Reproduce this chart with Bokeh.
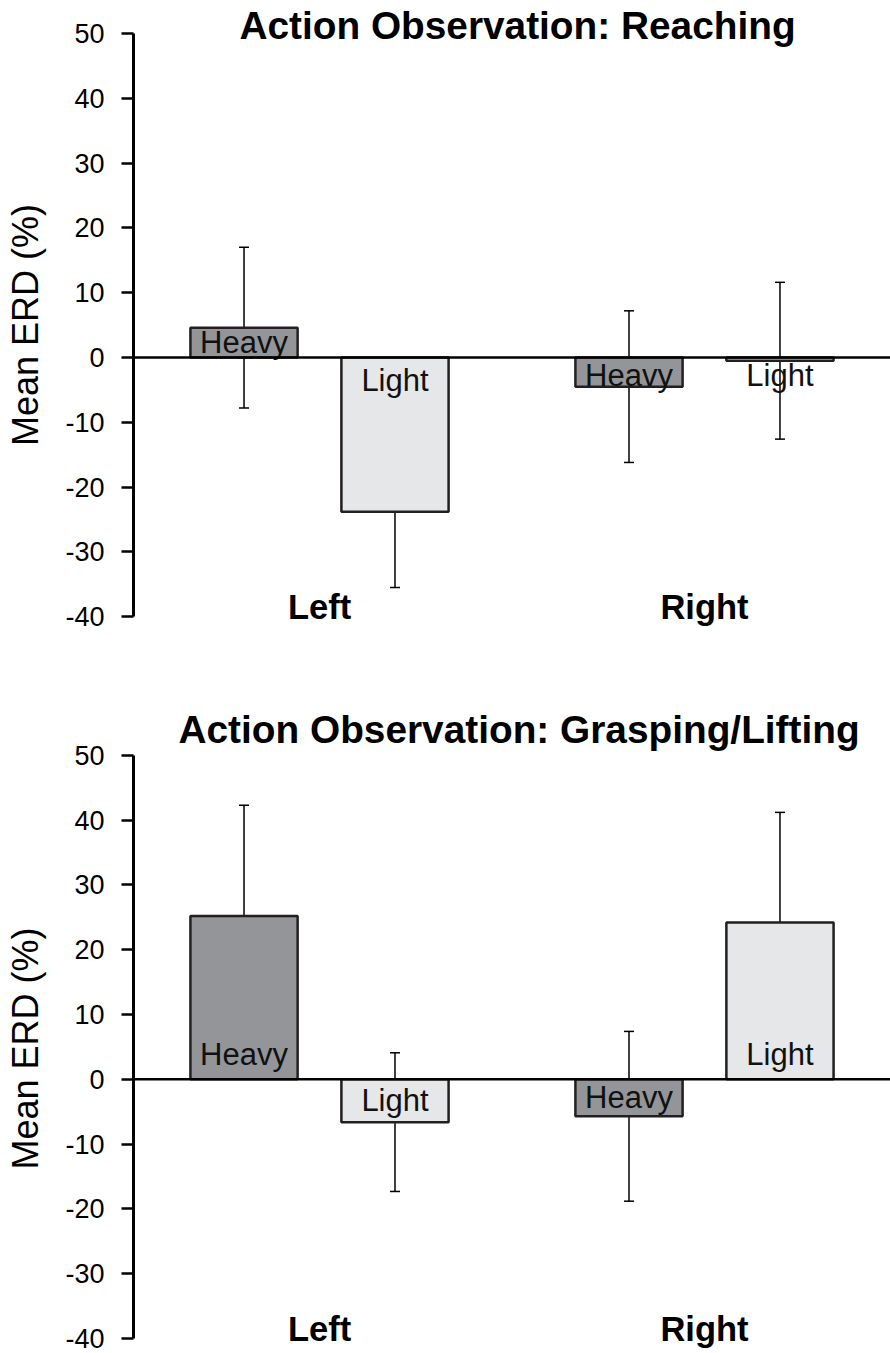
from bokeh.plotting import figure
from bokeh.models import (FactorRange, Range1d, Span, Whisker, TeeHead,
                          ColumnDataSource, Label, FixedTicker, PrintfTickFormatter)
from bokeh.layouts import column
from bokeh.embed import file_html
from bokeh.resources import INLINE
from bokeh.core.properties import value

# ---- data ----
sides = ["Left", "Right"]
weights = ["Heavy", "Light"]
reach_mean = [4.6, -23.8, -4.5, -0.5]
reach_err = [12.4, 11.7, 11.7, 12.1]
grasp_mean = [25.2, -6.6, -5.7, 24.2]
grasp_err = [17.1, 10.7, 13.1, 17.0]
y_ticks = [-40, -30, -20, -10, 0, 10, 20, 30, 40, 50]
titles = ["Action Observation: Reaching", "Action Observation: Grasping/Lifting"]
y_label = "Mean ERD (%)"

FONT = "Liberation Sans"
fills = {"Heavy": "#939598", "Light": "#e6e7e8"}
factors = [(s, w) for s in sides for w in weights]
PX_PER_UNIT = 6.48


def label_pos(v):
    if v >= 0:
        return min(max(v / 2, 2.3), 3.9)
    return -min(max(-v / 2, 2.8), 3.5)


def make_panel(title, means, errs, y_end, frame_h, top_border, title_in_frame):
    y_start = y_end - frame_h / PX_PER_UNIT
    src = ColumnDataSource(dict(
        x=factors,
        top=means,
        upper=[m + e for m, e in zip(means, errs)],
        lower=[m - e for m, e in zip(means, errs)],
        fill=[fills[w] for _, w in factors],
        label=[w for _, w in factors],
        ly=[label_pos(m) for m in means],
    ))
    p = figure(
        x_range=FactorRange(*factors, group_padding=0.55, range_padding=0.102,
                            range_padding_units="percent"),
        y_range=Range1d(y_start, y_end),
        frame_width=757, frame_height=frame_h,
        x_axis_location=None, toolbar_location=None, output_backend="svg",
        min_border=0, min_border_left=133, min_border_top=top_border,
        min_border_right=0, min_border_bottom=0,
        outline_line_color=None,
        title=None if title_in_frame else title,
    )
    p.xgrid.visible = False
    p.ygrid.visible = False

    p.vbar(x="x", top="top", bottom=0, width=0.71, source=src,
           fill_color="fill", line_color="#231f20", line_width=2.5)
    p.text(x="x", y="ly", text="label", source=src,
           text_align="center", text_baseline="middle",
           text_font=value(FONT), text_font_size="31px", text_color="#111111")
    p.text(x=sides, y=[y_ticks[0]] * len(sides), text=sides,
           text_align="center", text_baseline="middle", y_offset=-10,
           text_font=value(FONT), text_font_size="34.5px",
           text_font_style="bold", text_color="black")

    p.add_layout(Span(location=0, dimension="width", line_color="black", line_width=2.5))
    p.add_layout(Whisker(base="x", upper="upper", lower="lower", source=src,
                         line_color="black", line_width=1.5,
                         upper_head=TeeHead(size=10, line_width=1.5, line_color="black"),
                         lower_head=TeeHead(size=10, line_width=1.5, line_color="black")))

    ax = p.yaxis[0]
    ax.ticker = FixedTicker(ticks=y_ticks)
    ax.formatter = PrintfTickFormatter(format="%d")
    ax.bounds = (y_ticks[0], y_ticks[-1])
    ax.axis_line_width = 3
    ax.axis_line_color = "black"
    ax.major_tick_line_width = 2.5
    ax.major_tick_line_color = "black"
    ax.major_tick_out = 12
    ax.major_tick_in = 0
    ax.minor_tick_line_color = None
    ax.major_label_standoff = 17
    ax.major_label_text_font = FONT
    ax.major_label_text_font_size = "27px"
    ax.major_label_text_color = "black"
    ax.axis_label = y_label
    ax.axis_label_text_font = FONT
    ax.axis_label_text_font_size = "36px"
    ax.axis_label_text_font_style = "normal"
    ax.axis_label_text_color = "black"
    ax.axis_label_standoff = 16

    if title_in_frame:
        p.add_layout(Label(x=384, y=y_ticks[-1], x_units="screen", y_units="data",
                           y_offset=7.5, text=title, text_align="center",
                           text_baseline="middle", text_font=FONT,
                           text_font_size="38.8px", text_font_style="bold",
                           text_color="black"))
    else:
        p.title.align = "left"
        p.title.offset = 45
        p.title.text_font = FONT
        p.title.text_font_size = "38.8px"
        p.title.text_font_style = "bold"
        p.title.text_color = "black"
        p.title.standoff = -15
    return p


p1 = make_panel(titles[0], reach_mean, reach_err, 55.09, 649, 0, True)
p2 = make_panel(titles[1], grasp_mean, grasp_err, 51.83, 610, 94, False)

layout = column(p1, p2, spacing=0)
open("out.html", "w").write(file_html(layout, INLINE))
